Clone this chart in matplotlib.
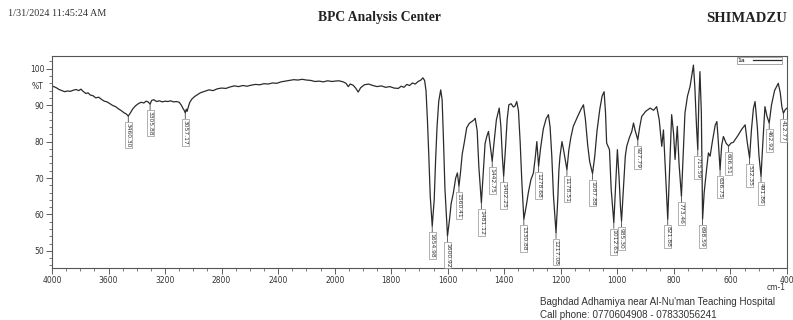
import numpy as np
import matplotlib
matplotlib.use("Agg")
import matplotlib.pyplot as plt
from matplotlib.ticker import FixedLocator

# ---------------- data ----------------
wavenumber = [
    4000, 3970, 3950, 3930, 3910, 3890, 3870, 3850, 3830, 3810, 3795, 3780, 3760, 3745, 3730, 3710,
    3690, 3670, 3650, 3630, 3610, 3590, 3570, 3550, 3530, 3510, 3490, 3475, 3460.30, 3445, 3430,
    3410, 3390, 3370, 3350, 3335, 3320, 3305.88, 3295, 3280, 3260, 3240, 3220, 3200, 3180, 3160,
    3140, 3120, 3100, 3085, 3072, 3065, 3057.17, 3050, 3044, 3035, 3025, 3010, 2990, 2970, 2950,
    2920, 2890, 2860, 2830, 2800, 2770, 2740, 2710, 2680, 2650, 2620, 2590, 2560, 2530, 2500, 2470,
    2440, 2410, 2380, 2350, 2320, 2290, 2260, 2230, 2200, 2170, 2140, 2110, 2080, 2050, 2020, 2000,
    1985, 1970, 1960, 1952, 1945, 1935, 1925, 1917, 1908, 1895, 1880, 1865, 1850, 1835, 1820, 1805,
    1790, 1775, 1765, 1755, 1745, 1735, 1725, 1715, 1705, 1695, 1688, 1682, 1677, 1672, 1667, 1662,
    1654.98, 1648, 1643, 1638, 1632, 1625, 1620, 1615, 1610, 1600.92, 1594, 1588, 1580, 1572, 1566,
    1560.41, 1555, 1549, 1541, 1533, 1524, 1515, 1508, 1503, 1496, 1490, 1481.12, 1475, 1468, 1462,
    1456, 1450, 1442.75, 1436, 1428, 1418, 1412, 1407, 1402.25, 1396, 1390, 1384, 1376, 1368, 1362,
    1356, 1350, 1344, 1338, 1330.88, 1322, 1315, 1306, 1297, 1290, 1285, 1278.68, 1272, 1262, 1252,
    1244, 1238, 1232, 1226, 1217.08, 1211, 1207, 1203, 1196, 1191, 1178.51, 1172, 1165, 1156, 1140,
    1128, 1120, 1113, 1105, 1098, 1087.88, 1080, 1072, 1062, 1054, 1047, 1042, 1038, 1032, 1028,
    1022, 1012.63, 1006, 1000, 994, 989, 985.30, 978, 972, 967, 958, 949, 943, 937, 927.79, 921, 914,
    900, 884, 872, 861, 852, 843, 837, 830, 821.88, 815, 808, 801, 796, 788, 782, 773.46, 768, 761,
    752, 743, 736, 731, 726, 720, 715.59, 712, 708, 703, 698.59, 693, 685, 678, 672, 664, 654, 648,
    643, 636.75, 631, 625, 615, 606.51, 598, 590, 575, 560, 548, 541, 532.35, 526, 519, 513, 505,
    499, 491.86, 486, 478, 471, 462.92, 455, 444, 431, 424, 418, 412.77, 406, 400,
]
transmittance = [
    95.3, 94.8, 94.3, 94.0, 93.7, 93.9, 93.8, 94.1, 94.3, 94.0, 94.4, 93.8, 93.2, 93.4, 92.8, 92.6,
    92.0, 92.2, 91.6, 91.1, 90.9, 90.4, 89.9, 89.6, 89.0, 88.5, 87.9, 87.6, 87.0, 87.9, 88.9,
    89.8, 90.4, 90.8, 90.6, 91.1, 90.9, 90.3, 91.3, 91.5, 91.0, 91.2, 90.9, 91.1, 91.0, 91.2,
    90.9, 91.0, 90.8, 90.0, 89.0, 88.6, 87.9, 88.9, 88.3, 89.6, 90.8, 91.7, 92.4, 92.9, 93.4,
    93.8, 94.2, 94.0, 94.5, 94.7, 94.6, 95.0, 95.3, 95.1, 95.4, 95.2, 95.5, 95.7, 95.6, 95.9, 95.8,
    96.1, 96.0, 96.4, 96.6, 96.8, 97.0, 96.9, 97.1, 96.9, 96.8, 96.5, 96.6, 96.4, 96.7, 96.5, 96.6,
    96.7, 96.4, 96.0, 95.1, 95.8, 95.5, 94.6, 93.6, 94.8, 95.6, 95.8, 95.4, 95.1, 95.3, 94.9, 95.1,
    94.7, 94.6, 95.2, 94.9, 95.7, 95.4, 96.1, 95.8, 96.5, 96.9, 97.5, 96.8, 94.0, 86.0, 76.0, 65.0,
    56.8, 64.0, 75.0, 84.0, 91.0, 94.2, 91.5, 80.0, 67.0, 54.1, 58.5, 63.0, 66.0, 70.0, 71.4,
    67.8, 71.5, 76.5, 80.0, 83.8, 85.0, 85.5, 85.9, 86.4, 83.0, 73.0, 63.2, 71.0, 79.5, 81.4,
    82.8, 79.0, 74.6, 80.0, 86.0, 89.2, 84.0, 76.0, 70.5, 78.0, 86.0, 90.1, 90.4, 89.5, 89.8,
    91.0, 88.5, 80.0, 69.0, 58.7, 62.5, 66.0, 69.5, 71.4, 76.0, 80.0, 73.2, 78.0, 83.5, 86.3,
    87.4, 84.0, 76.0, 65.0, 55.0, 64.0, 72.0, 76.0, 80.0, 78.0, 72.3, 77.5, 81.0, 84.2, 87.0,
    89.0, 90.1, 86.0, 79.0, 74.5, 71.2, 76.0, 83.0, 89.0, 92.5, 93.7, 88.0, 79.6, 78.5, 77.8,
    67.0, 57.8, 68.0, 77.8, 70.0, 62.0, 58.2, 68.0, 76.0, 78.7, 81.0, 82.8, 85.1, 83.0, 80.5, 84.0, 86.9,
    88.3, 89.2, 88.6, 89.6, 86.0, 78.7, 83.2, 72.0, 58.7, 73.0, 87.4, 82.0, 75.1, 84.2, 74.0, 65.0, 75.0, 87.8,
    92.5, 95.1, 98.5, 101.0, 95.0, 84.0, 77.8, 91.0, 99.2, 88.0, 58.7, 66.0, 72.0, 76.9, 76.0, 80.0, 84.5, 85.5,
    80.0, 72.3, 79.0, 81.4, 79.5, 78.8, 79.6, 79.8, 81.5, 83.4, 84.6, 80.0, 75.5, 83.0, 89.0, 91.0, 84.0,
    76.0, 70.5, 79.0, 89.6, 87.0, 85.1, 90.0, 94.0, 96.0, 93.5, 89.5, 87.8, 88.8, 89.2,
]
peak_wavenumbers = [3460.30, 3305.88, 3057.17, 1654.98, 1600.92, 1560.41, 1481.12, 1442.75,
                    1402.25, 1330.88, 1278.68, 1217.08, 1178.51, 1087.88, 1012.63, 985.30,
                    927.79, 821.88, 773.46, 715.59, 698.59, 636.75, 606.51, 532.35, 491.86,
                    462.92, 412.77]
x_ticks = [4000, 3600, 3200, 2800, 2400, 2000, 1800, 1600, 1400, 1200, 1000, 800, 600, 400]
y_ticks = [50, 60, 70, 80, 90, 100]
series_name = "1a"

# ---------------- figure ----------------
W, H = 793, 320
fig = plt.figure(figsize=(W / 100, H / 100), dpi=100)
ax = fig.add_axes([52 / W, 1 - 268 / H, 735 / W, 212 / H])


def fwd(w):
    w = np.asarray(w, dtype=float)
    return np.where(w > 2000, 2000 + (w - 2000) / 2.0, w)


def inv(u):
    u = np.asarray(u, dtype=float)
    return np.where(u > 2000, 2000 + (u - 2000) * 2.0, u)


ax.set_xscale("function", functions=(fwd, inv))
line_color = "#2b2b2b"
ax.plot(wavenumber, transmittance, color=line_color, lw=0.9, label=series_name)
ax.set_xlim(4000, 400)
ax.set_ylim(45.3, 103.5)

# ticks
ax.xaxis.set_major_locator(FixedLocator(x_ticks))
ax.xaxis.set_minor_locator(FixedLocator(list(np.arange(2100, 4000, 100)) + list(np.arange(450, 2000, 50))))
ax.set_xticklabels([str(t) for t in x_ticks])
ax.yaxis.set_major_locator(FixedLocator(y_ticks))
ax.yaxis.set_minor_locator(FixedLocator(list(np.arange(46, 104, 2))))
ax.tick_params(axis="both", which="major", direction="out", length=4, width=0.6,
               colors="#444444", labelsize=5.5, labelcolor="#333333", pad=1.5)
ax.tick_params(axis="both", which="minor", direction="out", length=2.2, width=0.5, colors="#444444")
for s in ax.spines.values():
    s.set_color("#555555")
    s.set_linewidth(0.8)

ax.text(-0.012, 95, "%T", transform=ax.get_yaxis_transform(), ha="right", va="center",
        fontsize=5.5, color="#333333")
ax.text(0.985, -0.07, "cm-1", transform=ax.transAxes, ha="center", va="top",
        fontsize=5.5, color="#333333")

# peak labels
wn_arr = np.array(wavenumber)[::-1]
t_arr = np.array(transmittance)[::-1]
for p in peak_wavenumbers:
    tp = float(np.interp(p, wn_arr, t_arr))
    ax.annotate(f"{p:.2f}", xy=(p, tp), xytext=(0, -5), textcoords="offset points",
                ha="center", va="top", rotation=270, fontsize=4.3, color="#333333",
                bbox=dict(boxstyle="square,pad=0.15", fc="white", ec="#777777", lw=0.4),
                arrowprops=dict(arrowstyle="-", color="#444444", lw=0.6, shrinkA=0, shrinkB=0))

leg = ax.legend(loc="upper right", bbox_to_anchor=(0.994, 1.0), fontsize=4.5, frameon=True,
                fancybox=False, borderpad=0.15, handlelength=4.5, handletextpad=1.2,
                borderaxespad=0.1, markerfirst=False)
leg.get_frame().set_edgecolor("#666666")
leg.get_frame().set_linewidth(0.5)

# header / footer texts
serif = ["Liberation Serif", "DejaVu Serif"]
sans = ["Liberation Sans", "DejaVu Sans"]
fig.text(8 / W, 1 - 14 / H, "1/31/2024 11:45:24 AM", family=serif, fontsize=7.3,
         ha="left", va="center", color="#333333")
fig.text(379 / W, 1 - 17 / H, "BPC Analysis Center", family=serif, fontsize=9.8,
         fontweight="bold", ha="center", va="center", color="#222222")
fig.text(787 / W, 1 - 18 / H, "SHIMADZU", family=serif, fontsize=10.5,
         fontweight="bold", ha="right", va="center", color="#222222")
fig.text(540 / W, 1 - 302 / H, "Baghdad Adhamiya near Al-Nu'man Teaching Hospital",
         family=sans, fontsize=7.1, ha="left", va="center", color="#333333")
fig.text(540 / W, 1 - 315 / H, "Call phone: 0770604908 - 07833056241",
         family=sans, fontsize=7.1, ha="left", va="center", color="#333333")

fig.savefig("out.png", dpi=100)
